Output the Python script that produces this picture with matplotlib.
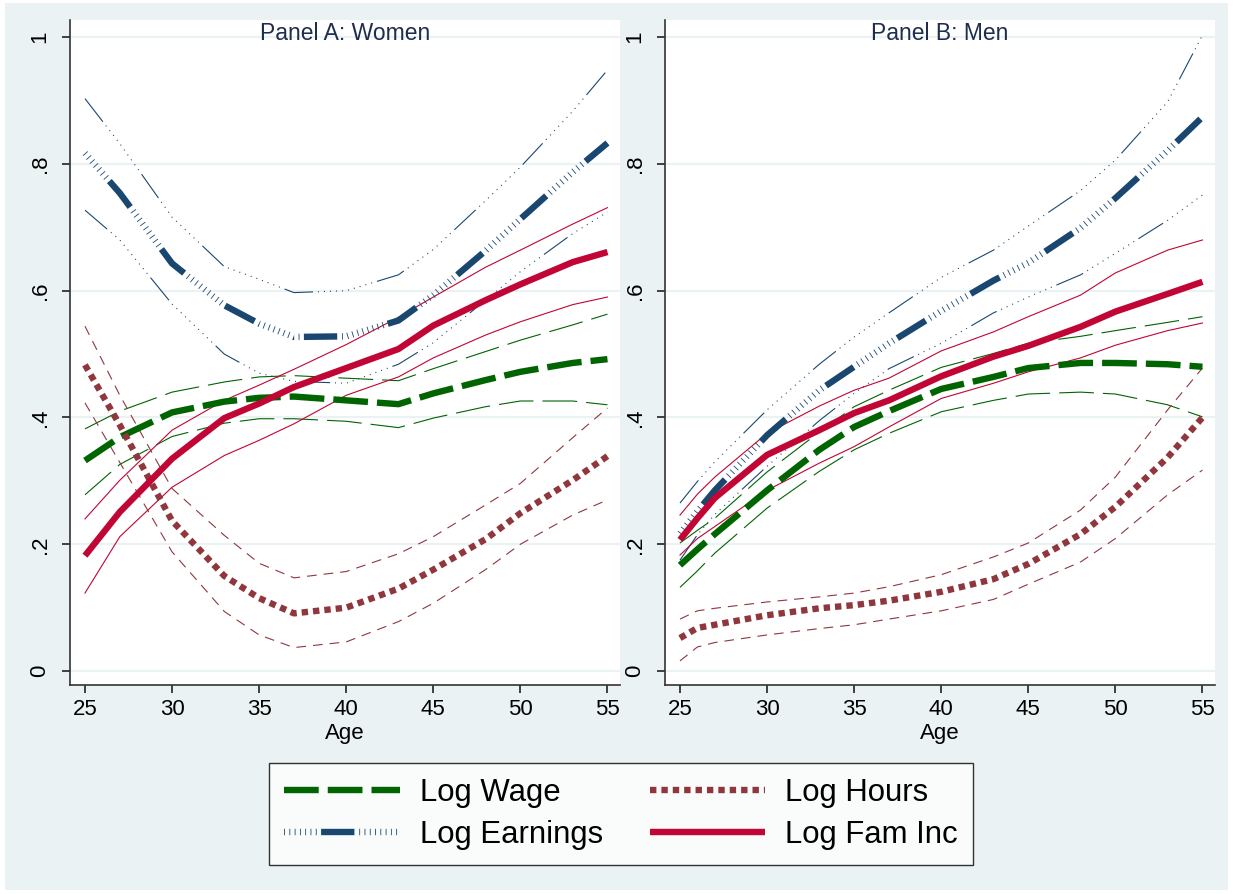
import matplotlib
matplotlib.use('Agg')
import matplotlib.pyplot as plt
from matplotlib.patches import Rectangle

plt.rcParams['font.family'] = ['Liberation Sans', 'DejaVu Sans']
plt.rcParams['lines.scale_dashes'] = False  # dash lengths in points

# ---- Panel A: Women ----
ages_a = [25, 27, 30, 33, 35, 37, 40, 43, 45, 48, 50, 53, 55]

wage_a = [0.332, 0.369, 0.408, 0.425, 0.431, 0.433, 0.427, 0.421, 0.438, 0.459, 0.472, 0.486, 0.492]
wage_a_hi = [0.382, 0.410, 0.440, 0.456, 0.464, 0.466, 0.462, 0.458, 0.477, 0.504, 0.522, 0.546, 0.563]
wage_a_lo = [0.278, 0.326, 0.370, 0.391, 0.398, 0.398, 0.394, 0.384, 0.399, 0.417, 0.426, 0.426, 0.420]

hours_a = [0.483, 0.388, 0.237, 0.150, 0.115, 0.091, 0.100, 0.130, 0.160, 0.208, 0.249, 0.301, 0.339]
hours_a_hi = [0.544, 0.435, 0.288, 0.214, 0.170, 0.147, 0.157, 0.185, 0.212, 0.262, 0.296, 0.368, 0.415]
hours_a_lo = [0.423, 0.329, 0.188, 0.094, 0.057, 0.037, 0.046, 0.078, 0.107, 0.160, 0.200, 0.246, 0.270]

earn_a = [0.817, 0.754, 0.643, 0.577, 0.548, 0.527, 0.528, 0.553, 0.593, 0.663, 0.713, 0.787, 0.833]
earn_a_hi = [0.903, 0.832, 0.716, 0.638, 0.618, 0.597, 0.600, 0.625, 0.665, 0.742, 0.795, 0.883, 0.948]
earn_a_lo = [0.727, 0.680, 0.579, 0.500, 0.470, 0.457, 0.454, 0.484, 0.518, 0.585, 0.630, 0.690, 0.724]

faminc_a = [0.182, 0.251, 0.335, 0.399, 0.422, 0.448, 0.478, 0.508, 0.545, 0.585, 0.610, 0.645, 0.661]
faminc_a_hi = [0.240, 0.301, 0.380, 0.427, 0.451, 0.476, 0.515, 0.558, 0.590, 0.637, 0.664, 0.705, 0.731]
faminc_a_lo = [0.123, 0.212, 0.290, 0.340, 0.364, 0.390, 0.435, 0.464, 0.494, 0.530, 0.551, 0.578, 0.590]

# ---- Panel B: Men ----
ages_b = [25, 26, 27, 30, 33, 35, 37, 40, 43, 45, 48, 50, 53, 55]

wage_b = [0.167, 0.192, 0.216, 0.285, 0.349, 0.385, 0.410, 0.445, 0.464, 0.478, 0.486, 0.486, 0.484, 0.480]
wage_b_hi = [0.202, 0.222, 0.241, 0.314, 0.377, 0.417, 0.443, 0.479, 0.501, 0.517, 0.528, 0.537, 0.550, 0.559]
wage_b_lo = [0.132, 0.158, 0.186, 0.257, 0.315, 0.349, 0.375, 0.409, 0.427, 0.437, 0.440, 0.437, 0.420, 0.401]

hours_b = [0.052, 0.068, 0.073, 0.088, 0.099, 0.104, 0.111, 0.125, 0.145, 0.169, 0.216, 0.259, 0.337, 0.400]
hours_b_hi = [0.082, 0.095, 0.099, 0.109, 0.117, 0.123, 0.133, 0.152, 0.180, 0.202, 0.254, 0.306, 0.412, 0.478]
hours_b_lo = [0.016, 0.038, 0.045, 0.057, 0.067, 0.073, 0.082, 0.095, 0.113, 0.137, 0.172, 0.209, 0.278, 0.317]

earn_b = [0.217, 0.252, 0.285, 0.372, 0.443, 0.480, 0.517, 0.568, 0.616, 0.644, 0.699, 0.746, 0.821, 0.874]
earn_b_hi = [0.265, 0.299, 0.330, 0.412, 0.484, 0.527, 0.565, 0.621, 0.664, 0.702, 0.758, 0.806, 0.898, 1.003]
earn_b_lo = [0.175, 0.215, 0.247, 0.323, 0.395, 0.438, 0.477, 0.517, 0.565, 0.590, 0.625, 0.659, 0.711, 0.751]

faminc_b = [0.207, 0.241, 0.273, 0.341, 0.380, 0.407, 0.427, 0.465, 0.496, 0.513, 0.543, 0.567, 0.595, 0.614]
faminc_b_hi = [0.246, 0.279, 0.306, 0.375, 0.418, 0.443, 0.462, 0.505, 0.535, 0.559, 0.593, 0.628, 0.664, 0.680]
faminc_b_lo = [0.183, 0.209, 0.228, 0.285, 0.328, 0.354, 0.385, 0.430, 0.454, 0.472, 0.494, 0.514, 0.537, 0.549]

x_ticks = [25, 30, 35, 40, 45, 50, 55]
y_ticks = [0, 0.2, 0.4, 0.6, 0.8, 1.0]
y_ticklabels = ['0', '.2', '.4', '.6', '.8', '1']

GREEN = '#006400'
MAROON = '#8f373d'
NAVY = '#1a476f'
RED = '#c10534'
BG = '#eaf2f3'

THICK = 4.6
THIN = 0.8

# line patterns
wage_dash = (0, (25, 6.5))
hours_dash = (0, (4.6, 3.6))
hours_ci_dash = (0, (7, 5))
earn_dash = (35, (24, 3.5) + (0.6, 3.2) * 9)
earn_ci_dash = (0, (21, 3.5) + (0.75, 3.6) * 10)

fig = plt.figure(figsize=(12.33, 8.94), dpi=100, facecolor='white')
fig.patches.append(Rectangle((5 / 1233, 1 - 890 / 894), 1223 / 1233, 887 / 894,
                             transform=fig.transFigure, facecolor=BG,
                             edgecolor='none', zorder=-10))

ax_a = fig.add_axes([70 / 1233, 1 - 685 / 894, 550 / 1233, 665 / 894])
ax_b = fig.add_axes([665 / 1233, 1 - 685 / 894, 550 / 1233, 665 / 894])


def draw_panel(ax, ages, wage, wage_hi, wage_lo, hours, hours_hi, hours_lo,
               earn, earn_hi, earn_lo, fam, fam_hi, fam_lo, title):
    # confidence bands
    for band in (wage_hi, wage_lo):
        ax.plot(ages, band, color=GREEN, lw=THIN, linestyle=wage_dash, dash_capstyle='butt')
    for band in (hours_hi, hours_lo):
        ax.plot(ages, band, color=MAROON, lw=THIN, linestyle=hours_ci_dash, dash_capstyle='butt')
    for band in (earn_hi, earn_lo):
        ax.plot(ages, band, color=NAVY, lw=THIN, linestyle=earn_ci_dash, dash_capstyle='butt')
    for band in (fam_hi, fam_lo):
        ax.plot(ages, band, color=RED, lw=THIN)

    # point estimates
    l1, = ax.plot(ages, wage, color=GREEN, lw=THICK, linestyle=wage_dash,
                  dash_capstyle='butt', label='Log Wage')
    l2, = ax.plot(ages, earn, color=NAVY, lw=THICK, linestyle=earn_dash,
                  dash_capstyle='butt', label='Log Earnings')
    l3, = ax.plot(ages, hours, color=MAROON, lw=THICK, linestyle=hours_dash,
                  dash_capstyle='butt', label='Log Hours')
    l4, = ax.plot(ages, fam, color=RED, lw=THICK, solid_capstyle='butt',
                  label='Log Fam Inc')

    ax.set_xlim(24.14, 55.72)
    ax.set_ylim(-0.022, 1.027)
    ax.set_xticks(x_ticks)
    ax.set_yticks(y_ticks)
    ax.set_yticklabels(y_ticklabels, rotation=90, va='center')
    ax.tick_params(axis='both', labelsize=16, length=6, width=1.2, color='#222222')
    ax.tick_params(axis='x', pad=4)
    ax.tick_params(axis='y', pad=8)
    ax.set_xlabel('Age', fontsize=16, labelpad=2)
    ax.grid(axis='y', color=BG, lw=1.6)
    ax.set_axisbelow(True)
    for side in ('top', 'right'):
        ax.spines[side].set_visible(False)
    for side in ('left', 'bottom'):
        ax.spines[side].set_color('#333333')
        ax.spines[side].set_linewidth(1.2)
    ax.text(0.5, 0.979, title, transform=ax.transAxes, ha='center', va='center',
            fontsize=16.5, color='#1e2d4d')
    return [l1, l2, l3, l4]


handles = draw_panel(ax_a, ages_a, wage_a, wage_a_hi, wage_a_lo,
                     hours_a, hours_a_hi, hours_a_lo,
                     earn_a, earn_a_hi, earn_a_lo,
                     faminc_a, faminc_a_hi, faminc_a_lo, 'Panel A: Women')
draw_panel(ax_b, ages_b, wage_b, wage_b_hi, wage_b_lo,
           hours_b, hours_b_hi, hours_b_lo,
           earn_b, earn_b_hi, earn_b_lo,
           faminc_b, faminc_b_hi, faminc_b_lo, 'Panel B: Men')

leg = fig.legend(handles=handles, loc='center', bbox_to_anchor=(621 / 1233, 1 - 814 / 894),
                 ncol=2, fontsize=22.4, frameon=True, fancybox=False,
                 handlelength=3.7, handletextpad=0.65, columnspacing=1.5,
                 labelspacing=0.37, borderpad=0.5, borderaxespad=0)
leg.get_frame().set_edgecolor('black')
leg.get_frame().set_linewidth(1.0)
leg.get_frame().set_facecolor('white')

fig.savefig('out.png', dpi=100, facecolor=fig.get_facecolor())
